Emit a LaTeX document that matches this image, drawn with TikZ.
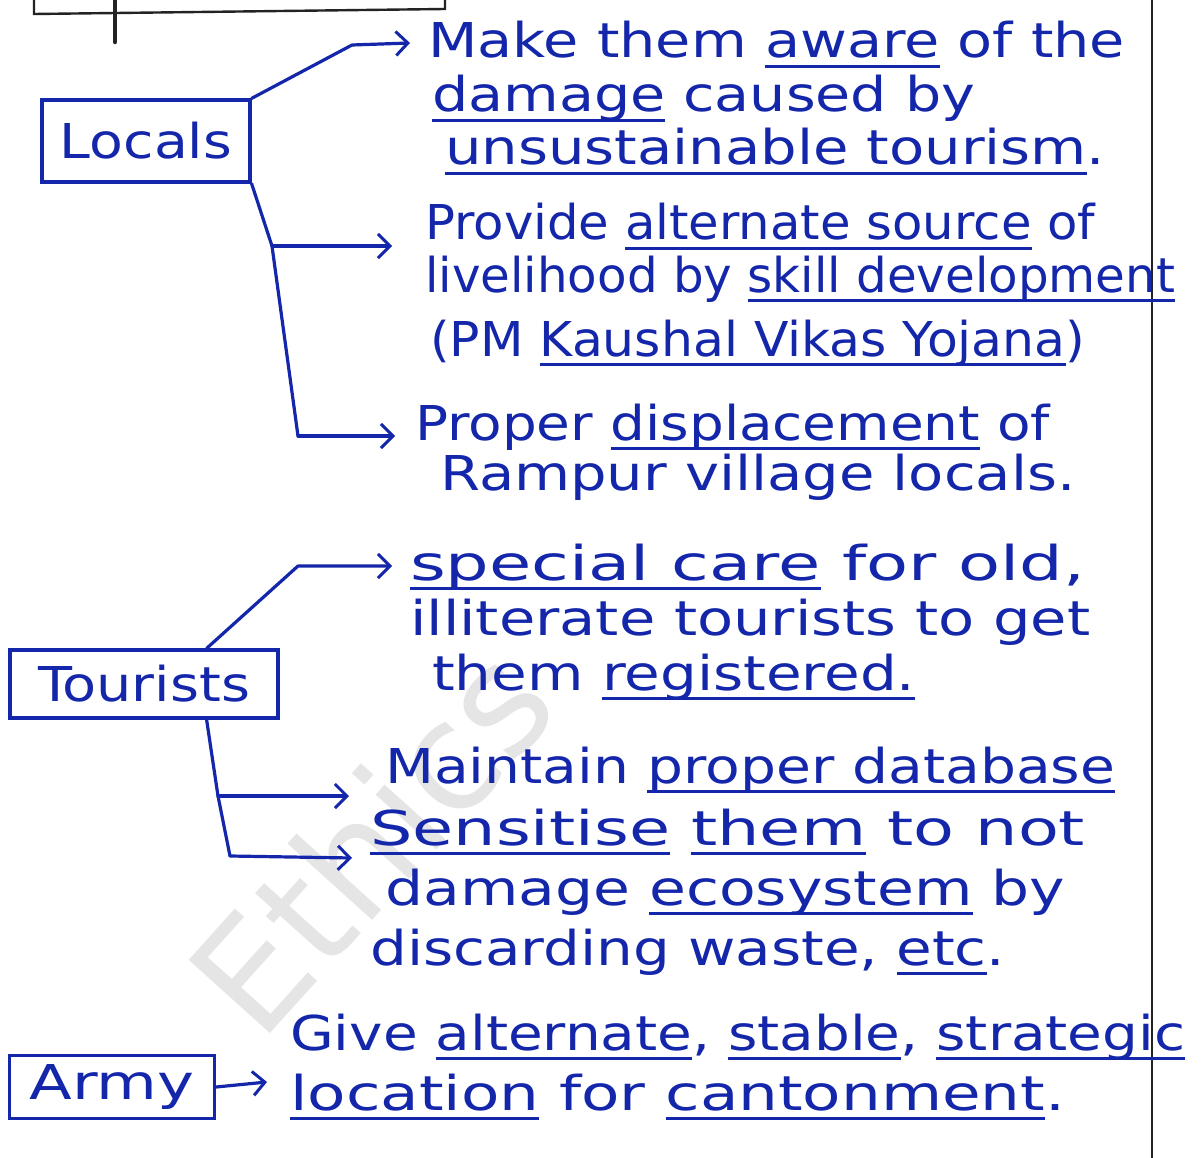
\documentclass[tikz,border=0pt]{standalone}
\usepackage{fontspec}
\setmainfont{DejaVu Sans}
\usetikzlibrary{arrows.meta}
\definecolor{ink}{RGB}{20,38,170}
\definecolor{pencil}{RGB}{35,35,35}
\newcommand\ul[1]{{\setbox0\hbox{#1}\rlap{\rule[-0.2em]{\wd0}{0.06em}}\box0}}
\newcommand\fitline[2]{\resizebox{#1}{\height}{#2}}
\tikzset{
  hand/.style={text=ink, inner sep=0pt, font=\fontsize{48}{52}\selectfont},
  txt/.style={hand, anchor=base west},
  box/.style={hand, draw=ink, line width=3.2pt, shape=rectangle},
  conn/.style={draw=ink, line width=3.2pt, line cap=round, line join=round},
  arr/.style={conn, -{Straight Barb[length=12pt,width=24pt,line width=3pt]}},
  wmark/.style={text=gray!20, inner sep=0pt, font=\fontsize{150}{150}\selectfont}
}
\begin{document}
\begin{tikzpicture}[x=1pt,y=-1pt]
\useasboundingbox (0,0) rectangle (1204,1158);
\fill[white] (0,0) rectangle (1204,1158);

% watermark
\node[wmark, rotate=48] (wm) at (370,840) {Ethics};

% page lines
\draw[pencil, line width=1.6pt] (1152,0) -- (1152,1158);
\draw[pencil, line width=2.4pt] (34,0) -- (34,14) -- (445,9) -- (445,0);
\draw[pencil, line width=4.5pt, line cap=round] (115,0) -- (115,42);

% boxes
\node[box, minimum width=208pt, minimum height=82pt] (locals) at (146,141) {\fitline{172pt}{Locals}};
\node[box, minimum width=268pt, minimum height=68pt] (tourists) at (144,684) {\fitline{212pt}{Tourists}};
\node[box, minimum width=205pt, minimum height=63pt] (army) at (112,1087) {\fitline{165pt}{Army}};

% text lines
\node[txt] (b1a) at (428,58)  {\fitline{697pt}{Make them \ul{aware} of the}};
\node[txt] (b1b) at (432,112) {\fitline{543pt}{\ul{damage} caused by}};
\node[txt] (b1c) at (445,165) {\fitline{660pt}{\ul{unsustainable tourism}.}};

\node[txt] (b2a) at (425,240) {\fitline{670pt}{Provide \ul{alternate source} of}};
\node[txt] (b2b) at (425,292) {\fitline{750pt}{livelihood by \ul{skill development}}};
\node[txt] (b2c) at (430,356) {\fitline{655pt}{(PM \ul{Kaushal Vikas Yojana})}};

\node[txt] (b3a) at (415,440) {\fitline{635pt}{Proper \ul{displacement} of}};
\node[txt] (b3b) at (440,490) {\fitline{635pt}{Rampur village locals.}};

\node[txt] (b4a) at (410,580) {\fitline{675pt}{\ul{special care} for old,}};
\node[txt] (b4b) at (410,635) {\fitline{680pt}{illiterate tourists to get}};
\node[txt] (b4c) at (432,690) {\fitline{483pt}{them \ul{registered.}}};

\node[txt] (b5a) at (385,783) {\fitline{730pt}{Maintain \ul{proper database}}};

\node[txt] (b6a) at (370,845) {\fitline{715pt}{\ul{Sensitise} \ul{them} to not}};
\node[txt] (b6b) at (385,905) {\fitline{680pt}{damage \ul{ecosystem} by}};
\node[txt] (b6c) at (370,965) {\fitline{635pt}{discarding waste, \ul{etc}.}};

\node[txt] (b7a) at (290,1050) {\fitline{895pt}{Give \ul{alternate}, \ul{stable}, \ul{strategic}}};
\node[txt] (b7b) at (290,1110) {\fitline{775pt}{\ul{location} for \ul{cantonment}.}};

% connector points
\coordinate (j1) at (352,45);  \coordinate (e1) at (410,43);
\coordinate (j2) at (272,246); \coordinate (e2) at (392,246);
\coordinate (j3) at (298,436); \coordinate (e3) at (395,436);
\coordinate (j4) at (298,566); \coordinate (e4) at (392,566);
\coordinate (j5) at (218,796); \coordinate (e5) at (349,796);
\coordinate (j6) at (230,856); \coordinate (e6) at (352,858);
\coordinate (e7) at (267,1082);

% connectors
\draw[arr] (locals.north east) -- (j1) -- (e1);
\draw[conn] (locals.south east) -- (j2) -- (j3);
\draw[arr] (j2) -- (e2);
\draw[arr] (j3) -- (e3);

\draw[arr] ([xshift=-73pt]tourists.north east) -- (j4) -- (e4);
\draw[conn] ([xshift=-73pt]tourists.south east) -- (j5) -- (j6);
\draw[arr] (j5) -- (e5);
\draw[arr] (j6) -- (e6);

\draw[arr] (army.east) -- (e7);
\end{tikzpicture}
\end{document}
